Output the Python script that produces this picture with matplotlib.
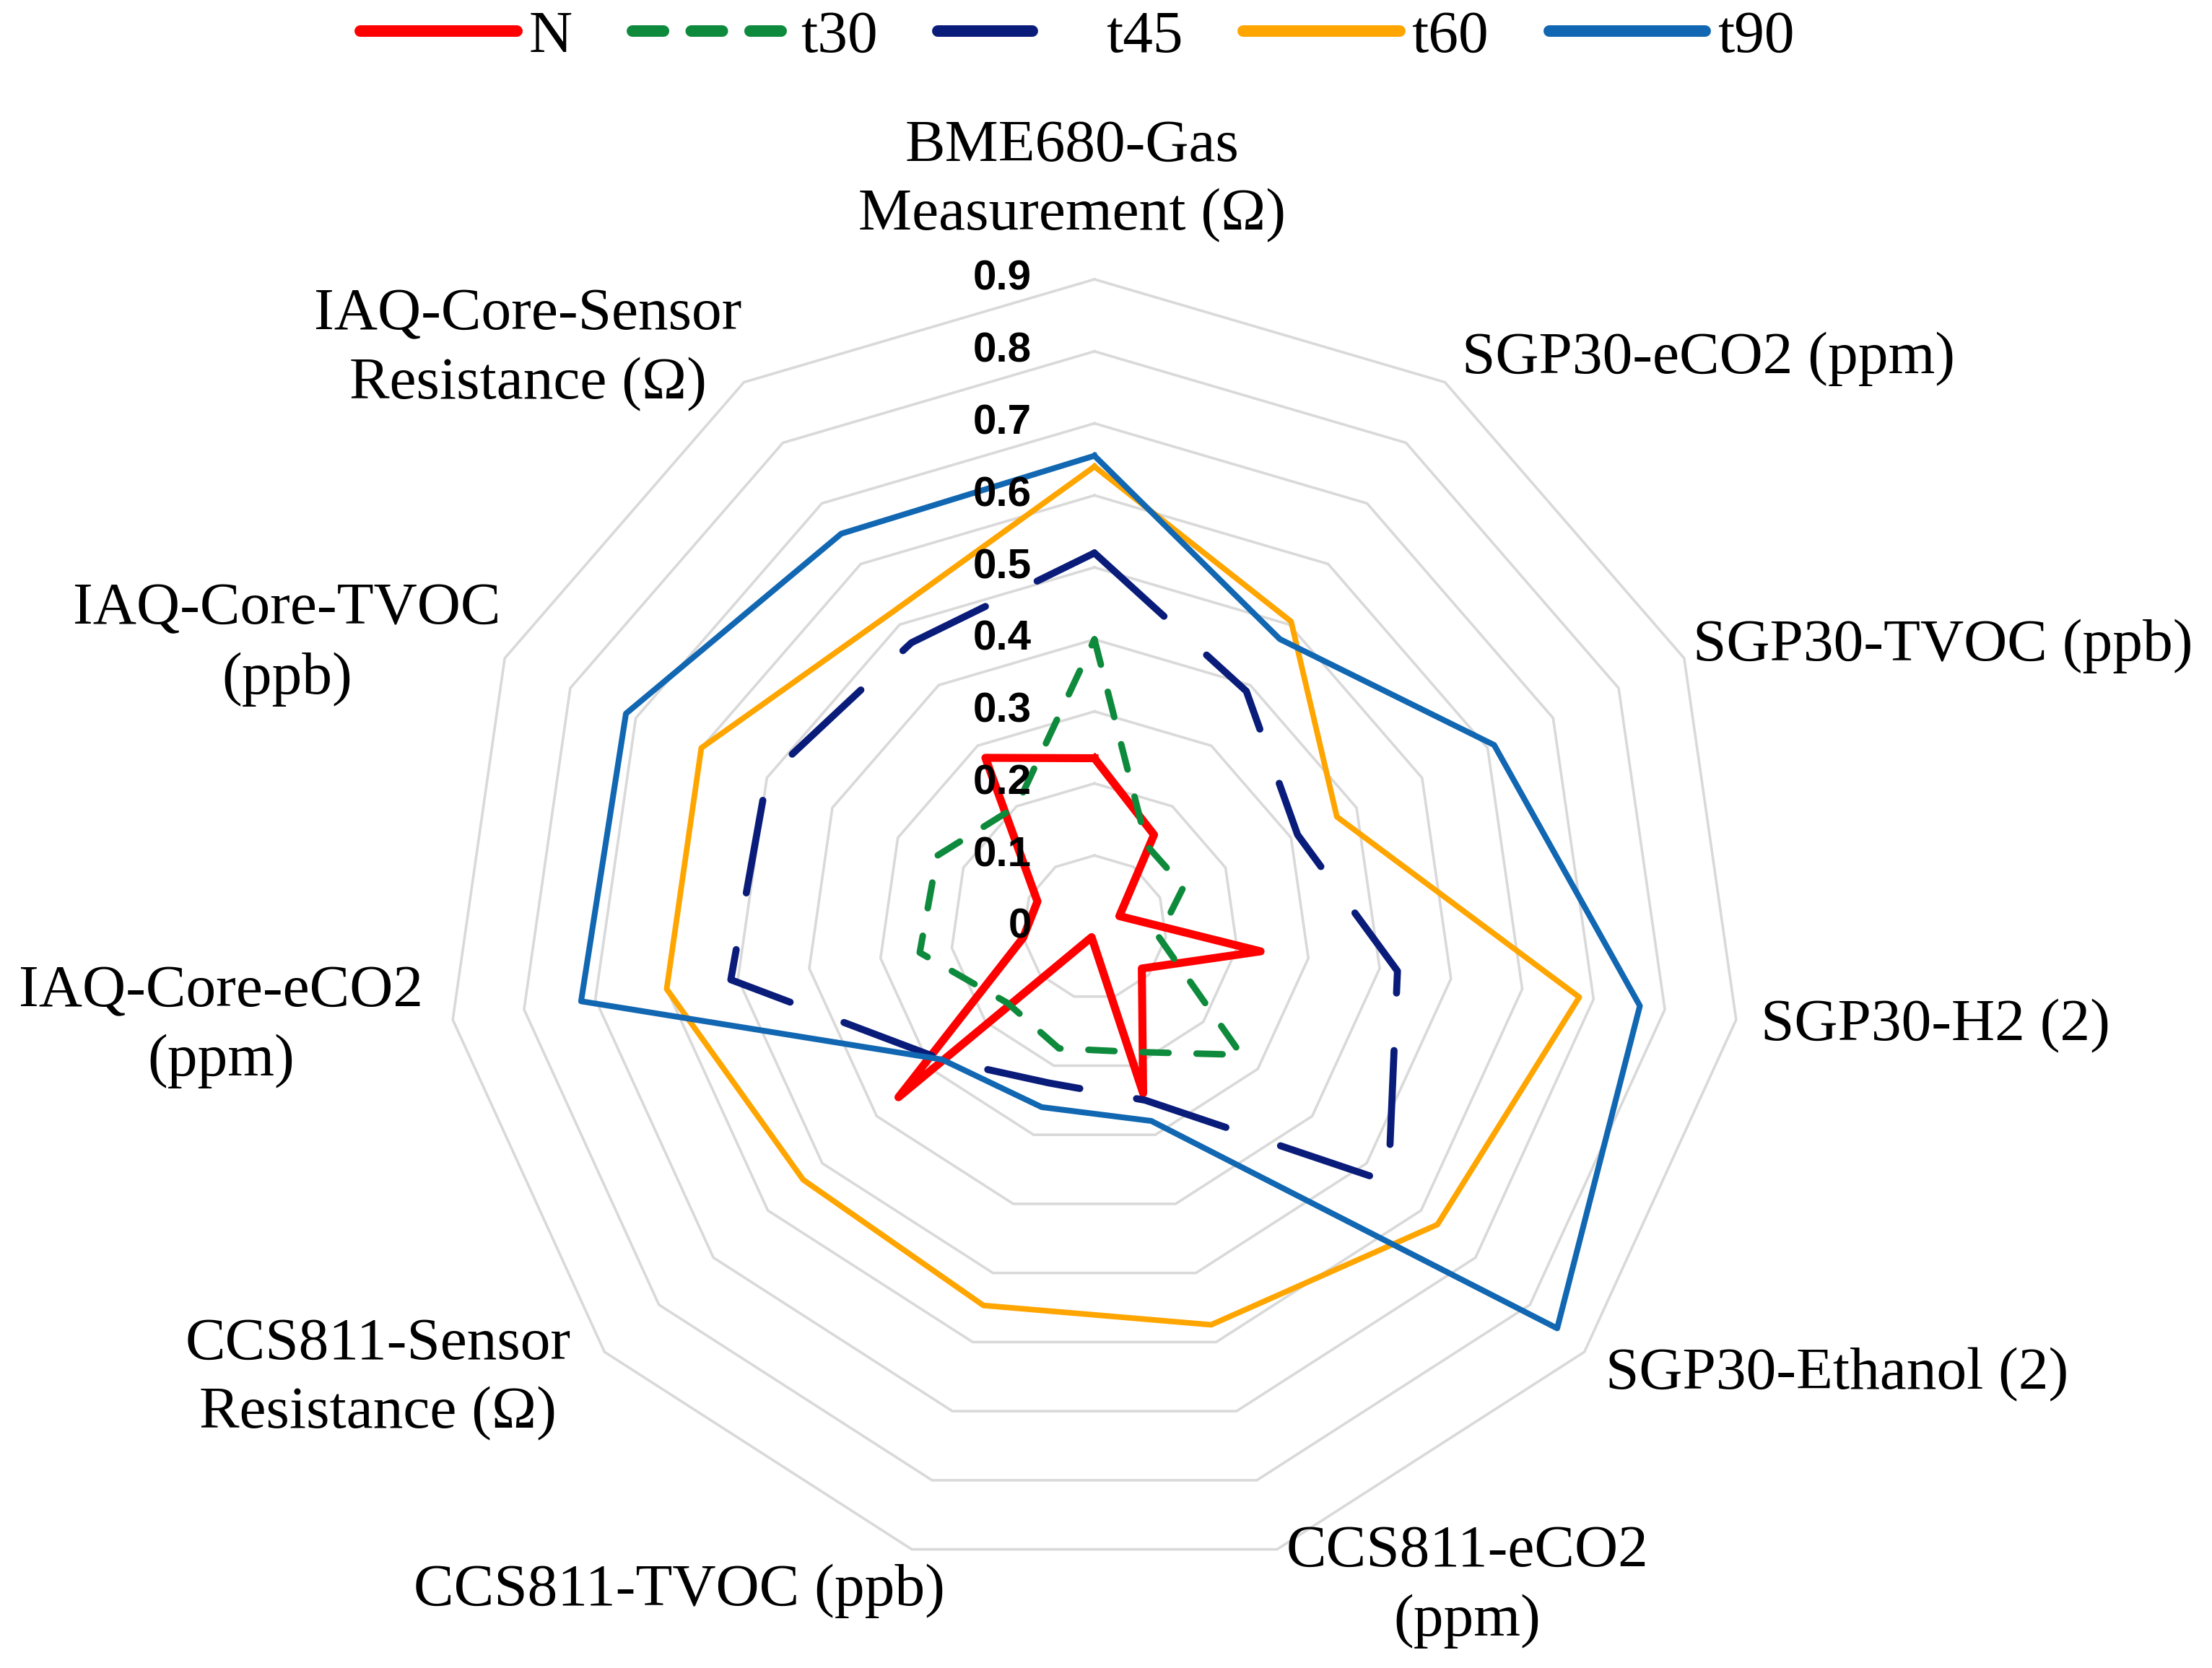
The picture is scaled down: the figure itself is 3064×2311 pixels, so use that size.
import numpy as np
import matplotlib
matplotlib.use("Agg")
import matplotlib.pyplot as plt
from matplotlib.lines import Line2D
from matplotlib.transforms import offset_copy

# categories, clockwise from the top
categories = [
    "BME680-Gas\nMeasurement (\u03a9)",
    "SGP30-eCO2 (ppm)",
    "SGP30-TVOC (ppb)",
    "SGP30-H2 (2)",
    "SGP30-Ethanol (2)",
    "CCS811-eCO2\n(ppm)",
    "CCS811-TVOC (ppb)",
    "CCS811-Sensor\nResistance (\u03a9)",
    "IAQ-Core-eCO2\n(ppm)",
    "IAQ-Core-TVOC\n(ppb)",
    "IAQ-Core-Sensor\nResistance (\u03a9)",
]

# normalised values
n_vals = [0.235, 0.153, 0.038, 0.233, 0.087, 0.24, 0.014, 0.36, 0.10, 0.087, 0.28]
t30_vals = [0.40, 0.135, 0.136, 0.09, 0.27, 0.18, 0.175, 0.16, 0.245, 0.24, 0.20]
t45_vals = [0.52, 0.39, 0.31, 0.425, 0.54, 0.25, 0.225, 0.28, 0.51, 0.50, 0.47]
t60_vals = [0.64, 0.505, 0.37, 0.68, 0.63, 0.575, 0.547, 0.535, 0.60, 0.60, 0.52]
t90_vals = [0.655, 0.476, 0.61, 0.765, 0.85, 0.28, 0.26, 0.28, 0.72, 0.715, 0.65]

ring_values = [0.1, 0.2, 0.3, 0.4, 0.5, 0.6, 0.7, 0.8, 0.9]
tick_values = [0, 0.1, 0.2, 0.3, 0.4, 0.5, 0.6, 0.7, 0.8, 0.9]
tick_labels = ["0", "0.1", "0.2", "0.3", "0.4", "0.5", "0.6", "0.7", "0.8", "0.9"]

# label anchors: (angle in degrees, radius, horizontal alignment)
label_anchor = [
    (-1.7, 1.037, "center"),
    (32.9, 0.94, "left"),
    (64.8, 0.918, "left"),
    (98.4, 0.935, "left"),
    (131.2, 0.943, "left"),
    (163.8, 0.953, "left"),
    (192.7, 0.944, "right"),
    (229.2, 0.96, "right"),
    (261.6, 0.942, "right"),
    (295.5, 0.913, "right"),
    (328.6, 0.94, "right"),
]

n = len(categories)
theta = np.arange(n) * 2 * np.pi / n
theta_closed = np.append(theta, theta[0])


def closed(vals):
    return np.append(vals, vals[0])


W, H = 3064, 2311
fig = plt.figure(figsize=(W / 100, H / 100), dpi=100)
cx, cy, rad = 1516, 1285, 898
ax = fig.add_axes([(cx - rad) / W, (H - cy - rad) / H, 2 * rad / W, 2 * rad / H],
                  projection="polar")
ax.set_theta_zero_location("N")
ax.set_theta_direction(-1)
ax.set_ylim(0, 0.9)
ax.set_xticks([])
ax.set_yticks([])
ax.grid(False)
ax.spines["polar"].set_visible(False)
ax.patch.set_alpha(0)

# polygon grid
for rv in ring_values:
    ax.plot(theta_closed, [rv] * (n + 1), color="#D9D9D9", lw=2.6, zorder=1,
            solid_joinstyle="miter", clip_on=False)

colors = {"N": "#FF0000", "t30": "#0E8A3C", "t45": "#0A1C7A",
          "t60": "#FFA500", "t90": "#1167B1"}
styles = [
    ("N", n_vals, dict(lw=8, solid_joinstyle="round")),
    ("t30", t30_vals, dict(lw=6.5, linestyle=(0, (4, 4.3)), dash_capstyle="round")),
    ("t45", t45_vals, dict(lw=7, linestyle=(0, (13.4, 8.2)), dash_capstyle="round")),
    ("t60", t60_vals, dict(lw=5.6, solid_joinstyle="round")),
    ("t90", t90_vals, dict(lw=5.8, solid_joinstyle="round")),
]
for name, vals, kw in styles:
    ax.plot(theta_closed, closed(vals), color=colors[name], label=name,
            zorder=3, clip_on=False, **kw)

# radial tick labels, left of the top axis
tick_tr = offset_copy(ax.transData, fig=fig, x=-87, y=0, units="dots")
for v, s in zip(tick_values, tick_labels):
    ax.text(0, v, s, transform=tick_tr, ha="right", va="center",
            fontsize=42, fontweight="bold", family="Liberation Sans", zorder=5)

# category labels
for lab, (ang, r, ha) in zip(categories, label_anchor):
    ax.text(np.deg2rad(ang), r, lab, ha=ha, va="center", multialignment="center",
            fontsize=60, family="Liberation Serif", linespacing=1.36)

# legend keys drawn thicker, as in the source
leg_lw = 11.5
handles = [
    Line2D([], [], color=colors["N"], lw=leg_lw, solid_capstyle="round"),
    Line2D([], [], color=colors["t30"], lw=leg_lw, linestyle=(0, (2.7, 2.4)),
           dash_capstyle="round"),
    Line2D([], [], color=colors["t45"], lw=leg_lw, linestyle=(0, (8.2, 12)),
           dash_capstyle="round"),
    Line2D([], [], color=colors["t60"], lw=leg_lw, solid_capstyle="round"),
    Line2D([], [], color=colors["t90"], lw=leg_lw, solid_capstyle="round"),
]
fig.legend(handles, ["N", "t30", "t45", "t60", "t90"], loc="center",
           bbox_to_anchor=(0.487, 1 - 52 / H), ncol=5, frameon=False,
           prop={"family": "Liberation Serif", "size": 60},
           handlelength=2.6, handletextpad=0.2, columnspacing=1.0)

fig.savefig("out.png", dpi=100, facecolor="white")
